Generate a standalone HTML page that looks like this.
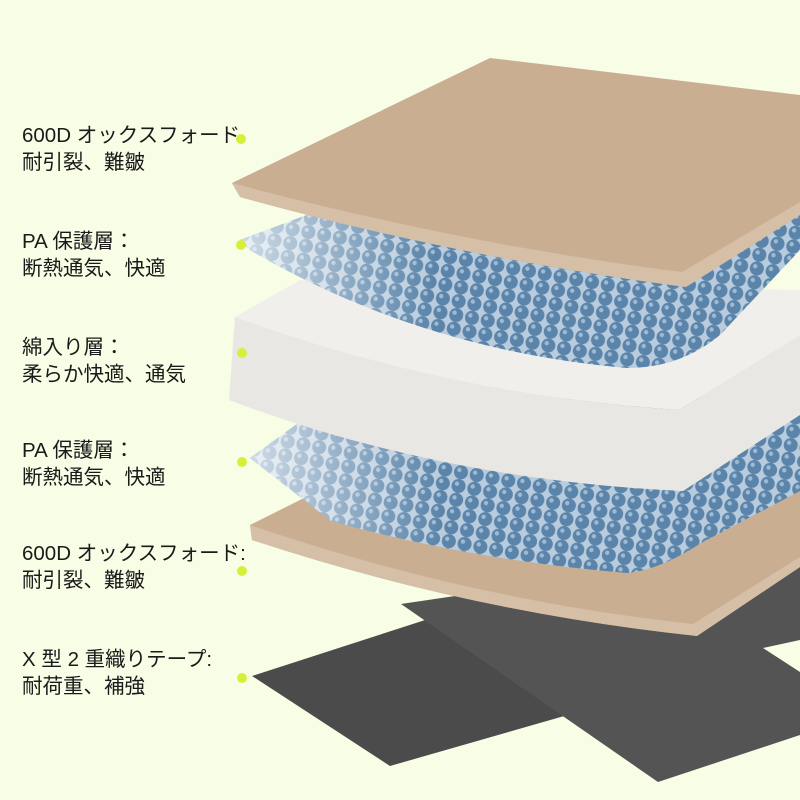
<!DOCTYPE html>
<html><head><meta charset="utf-8"><style>
body{margin:0;width:800px;height:800px;background:#f8fde6;overflow:hidden;position:relative;font-family:"Liberation Sans","Noto Sans CJK JP",sans-serif;}
.t{position:absolute;left:22px;font-size:20.5px;line-height:27px;color:#1a1a1a;white-space:nowrap;}
</style></head><body>
<svg width="800" height="800" style="position:absolute;left:0;top:0">
<defs>
<pattern id="bub" width="16" height="14" patternUnits="userSpaceOnUse" patternTransform="rotate(10)">
<rect width="16" height="14" fill="#b9ccdd"/>
<circle cx="8" cy="7" r="7" fill="#5a84a9"/>
<circle cx="6" cy="5" r="2.2" fill="#9fbbd4"/>
</pattern>
<linearGradient id="fade" x1="0" x2="1" y1="0" y2="0">
<stop offset="0" stop-color="#ffffff" stop-opacity="0.7"/>
<stop offset="0.35" stop-color="#ffffff" stop-opacity="0"/>
</linearGradient>
</defs>
<!-- dark straps -->
<polygon points="252,676 450,612 620,700 390,766" fill="#4b4b4b"/>
<polygon points="401,604 800,545 800,640 763,648 800,672 800,735 658,782" fill="#545454"/>
<!-- bottom tan -->
<path d="M250,525 L420,440 L800,460 L800,567 L697,636 Q470,612 252,540 Z" fill="#c9ae92"/>
<path d="M250,525 L252,540 Q470,612 697,636 L800,567 L800,557 L693,624 Q470,600 250,525 Z" fill="#d6bfa7"/>
<!-- blue 2 -->
<path d="M250,458 L330,400 L800,395 L800,491 L701,543 Q660,570 627,573 Q470,560 331,521 Z" fill="url(#bub)"/>
<path d="M250,458 L330,400 L800,395 L800,491 L701,543 Q660,570 627,573 Q470,560 331,521 Z" fill="url(#fade)"/>
<!-- foam -->
<path d="M235,317 L300,280 L800,290 L800,335 L679,410 Q450,395 235,317 Z" fill="#f1efec"/>
<path d="M235,317 Q450,395 679,410 L800,335 L800,415 L683,491 Q440,480 229,400 Z" fill="#e9e7e3"/>
<!-- blue 1 -->
<path d="M240,240 L400,180 L800,200 L800,250 L720,335 Q680,368 627,368 Q420,350 250,250 Z" fill="url(#bub)"/>
<path d="M240,240 L400,180 L800,200 L800,250 L720,335 Q680,368 627,368 Q420,350 250,250 Z" fill="url(#fade)"/>
<!-- top tan -->
<path d="M232,183 L490,58 L800,95 L800,215 L686,287 Q460,258 240,197 Z" fill="#c9ae92"/>
<path d="M232,183 L240,197 Q460,258 686,287 L800,215 L800,202 L682,272 Q460,244 232,183 Z" fill="#d6bfa7"/>
<g fill="#d6f03a">
<circle cx="241" cy="139" r="5"/><circle cx="241" cy="245" r="5"/><circle cx="242" cy="353" r="5"/>
<circle cx="242" cy="462" r="5"/><circle cx="242" cy="571" r="5"/><circle cx="242" cy="678" r="5"/>
</g>
</svg>
<div class="t" style="top:122px">600D オックスフォード<br>耐引裂、難皺</div>
<div class="t" style="top:228px">PA 保護層：<br>断熱通気、快適</div>
<div class="t" style="top:334px">綿入り層：<br>柔らか快適、通気</div>
<div class="t" style="top:437px">PA 保護層：<br>断熱通気、快適</div>
<div class="t" style="top:540px">600D オックスフォード:<br>耐引裂、難皺</div>
<div class="t" style="top:646px">X 型 2 重織りテープ:<br>耐荷重、補強</div>
</body></html>
